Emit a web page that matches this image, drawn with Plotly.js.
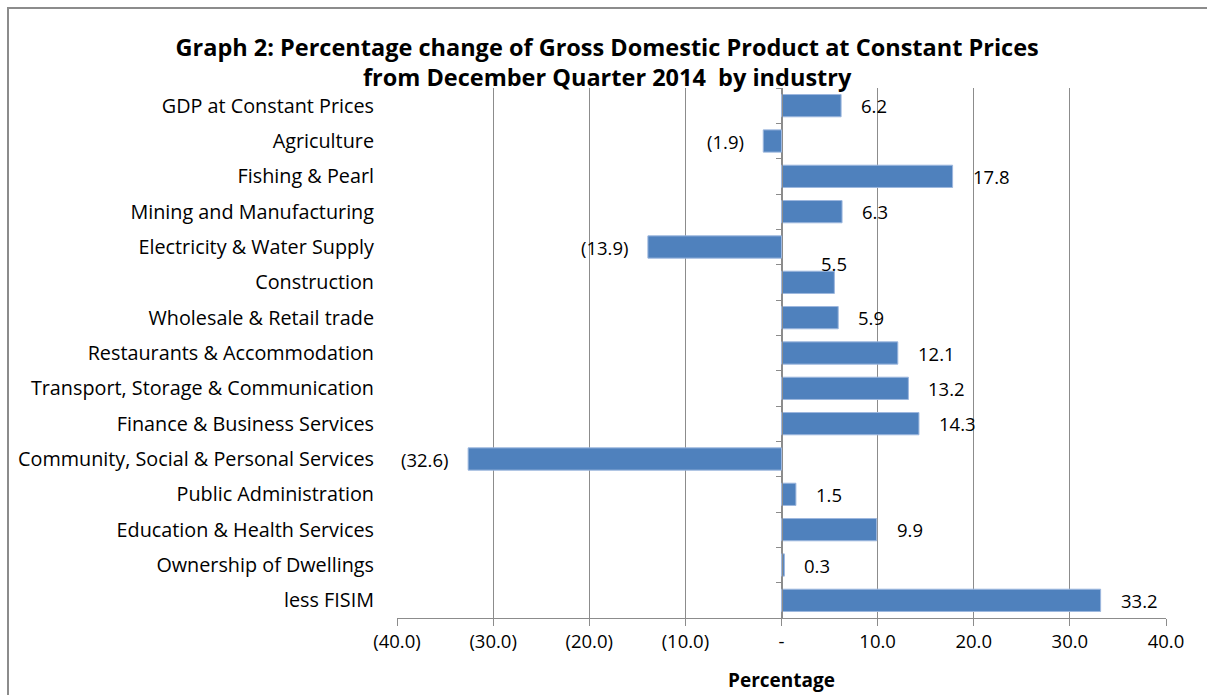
<!DOCTYPE html>
<html>
<head>
<meta charset="utf-8">
<script src="https://cdn.plot.ly/plotly-3.0.1.min.js"></script>
<style>
html,body{margin:0;padding:0;width:1207px;height:695px;overflow:hidden;background:#fff;}
#chart{position:absolute;left:0;top:0;width:1207px;height:695px;}
#frame{position:absolute;left:7px;top:7px;width:1220px;height:720px;border:2px solid #8c8c8c;box-sizing:border-box;pointer-events:none;}
</style>
</head>
<body>
<div id="chart"></div>
<div id="frame"></div>
<script>
var industries = [
  "GDP at Constant Prices",
  "Agriculture",
  "Fishing & Pearl",
  "Mining and Manufacturing",
  "Electricity & Water Supply",
  "Construction",
  "Wholesale & Retail trade",
  "Restaurants & Accommodation",
  "Transport, Storage & Communication",
  "Finance & Business Services",
  "Community, Social & Personal Services",
  "Public Administration",
  "Education & Health Services",
  "Ownership of Dwellings",
  "less FISIM"
];
var pctChange = [6.2, -1.9, 17.8, 6.3, -13.9, 5.5, 5.9, 12.1, 13.2, 14.3, -32.6, 1.5, 9.9, 0.3, 33.2];
var tickVals = [-40, -30, -20, -10, 0, 10, 20, 30, 40];
var tickText = ["(40.0)", "(30.0)", "(20.0)", "(10.0)", "-", "10.0", "20.0", "30.0", "40.0"];

function fmt(v){ return v < 0 ? "(" + Math.abs(v).toFixed(1) + ")" : v.toFixed(1); }

var FONT = "'Open Sans', Lato, sans-serif";
var GRID = "#8c8c8c";

var bars = {
  type: "bar", orientation: "h",
  x: pctChange, y: industries,
  marker: {color: "#4F81BD", line: {color: "#9db7de", width: 1}},
  hoverinfo: "x+y"
};
var axisTrace = {
  type: "bar", orientation: "h",
  x: pctChange.map(function(){return 0;}), y: industries,
  yaxis: "y2", hoverinfo: "skip", showlegend: false,
  marker: {color: "rgba(0,0,0,0)"}
};

var annotations = industries.map(function(name, i){
  var v = pctChange[i];
  var a = {
    x: v, y: name, xref: "x", yref: "y",
    text: fmt(v), showarrow: false,
    xanchor: v < 0 ? "right" : "left",
    xshift: v < 0 ? -17 : 18,
    font: {family: FONT, size: 18.5, color: "#000"}
  };
  if (name === "Construction") { a.xanchor = "center"; a.xshift = 0; a.yshift = 19; }
  return a;
});

var layout = {
  width: 1207, height: 695,
  paper_bgcolor: "rgba(0,0,0,0)", plot_bgcolor: "rgba(0,0,0,0)",
  margin: {l: 397, r: 41, t: 88, b: 77},
  showlegend: false,
  bargap: 0.37,
  title: {
    text: "<b>Graph 2: Percentage change of Gross Domestic Product at Constant Prices<br>from December Quarter 2014  by industry</b>",
    font: {family: FONT, size: 23.5, color: "#000"},
    x: 0.503, xanchor: "center", y: 0.92, yanchor: "top"
  },
  xaxis: {
    range: [-40, 40], tickvals: tickVals, ticktext: tickText,
    showgrid: true, gridcolor: GRID, gridwidth: 1,
    zeroline: false,
    showline: true, linecolor: GRID, linewidth: 1,
    ticks: "outside", ticklen: 7, tickcolor: GRID,
    tickfont: {family: FONT, size: 18.5, color: "#000"},
    title: {text: "<b>Percentage</b>", font: {family: FONT, size: 19, color: "#000"}, standoff: 21},
    fixedrange: true
  },
  yaxis: {
    type: "category", autorange: "reversed",
    showgrid: false, zeroline: false, showline: false, ticks: "",
    ticklabelstandoff: 22,
    tickfont: {family: FONT, size: 19.8, color: "#000"},
    fixedrange: true
  },
  yaxis2: {
    type: "category", autorange: "reversed", overlaying: "y",
    anchor: "free", position: 0.5, side: "left",
    showgrid: false, zeroline: false,
    showline: true, linecolor: GRID, linewidth: 1,
    ticks: "outside", tickson: "boundaries", ticklen: 6, tickcolor: GRID,
    showticklabels: false, fixedrange: true
  },
  annotations: annotations
};

Plotly.newPlot("chart", [bars, axisTrace], layout, {displayModeBar: false, staticPlot: true});
</script>
</body>
</html>
